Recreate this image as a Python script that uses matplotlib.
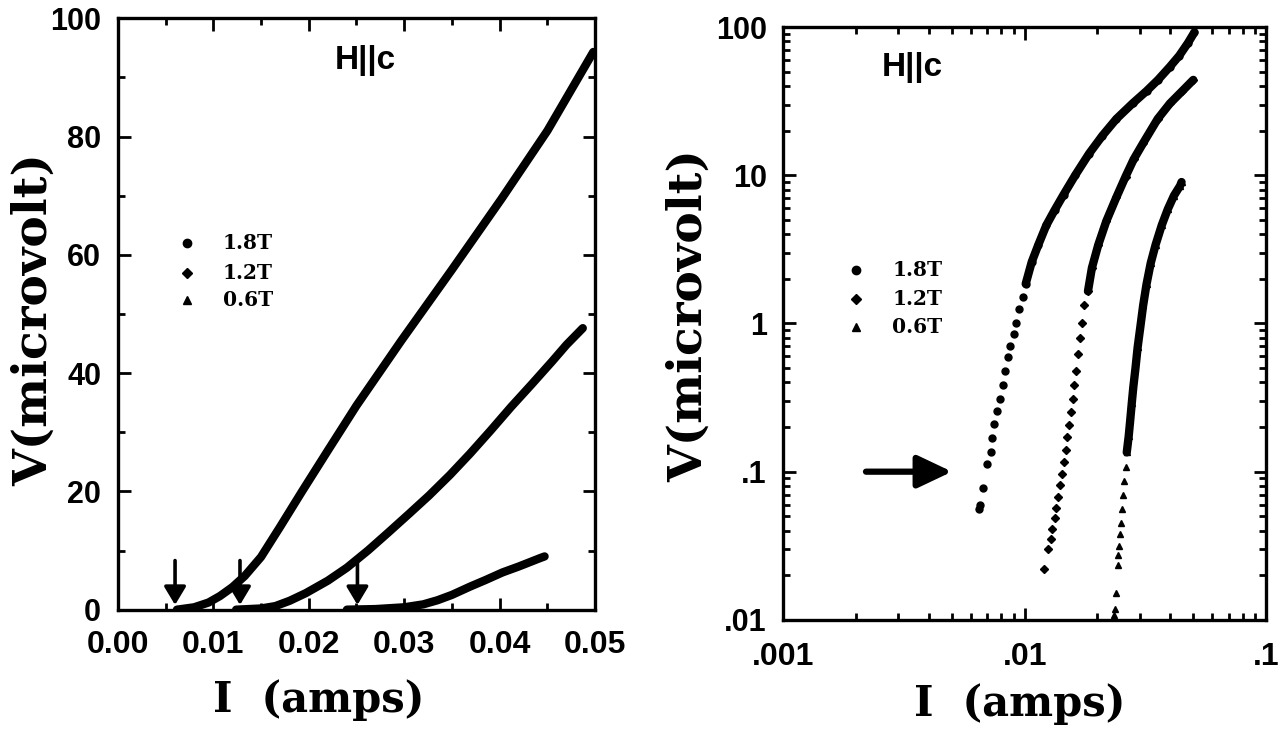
import numpy as np
import matplotlib
matplotlib.use("Agg")
import matplotlib.pyplot as plt
from matplotlib.ticker import MultipleLocator, FixedLocator, FuncFormatter, LogLocator, NullFormatter


# I-V curves for H || c at three fields (I in amps, V in microvolts).
fields = ["1.8T", "1.2T", "0.6T"]

# linear-scale sweep
lin_i_18 = [0.0062, 0.0080, 0.0095, 0.0107, 0.0120, 0.0133, 0.0150, 0.0170, 0.0193, 0.0220,
            0.0250, 0.0297, 0.0350, 0.0402, 0.0450, 0.0498]
lin_v_18 = [0.0, 0.4, 1.2, 2.3, 3.8, 5.7, 8.9, 14.0, 20.0, 26.9,
            34.5, 45.5, 57.5, 69.5, 81.0, 94.3]

lin_i_12 = [0.0124, 0.0150, 0.0165, 0.0180, 0.0197, 0.0220, 0.0240, 0.0262, 0.0283, 0.0305,
            0.0326, 0.0348, 0.0369, 0.0390, 0.0412, 0.0434, 0.0455, 0.0470, 0.0487]
lin_v_12 = [0.0, 0.2, 0.6, 1.5, 2.8, 4.9, 7.1, 10.0, 13.0, 16.2,
            19.3, 22.8, 26.4, 30.2, 34.3, 38.2, 42.0, 44.8, 47.6]

lin_i_06 = [0.0240, 0.0270, 0.0300, 0.0320, 0.0335, 0.0350, 0.0369, 0.0385, 0.0403, 0.0420,
            0.0442, 0.0447]
lin_v_06 = [0.0, 0.1, 0.4, 0.9, 1.6, 2.5, 3.9, 5.0, 6.3, 7.3,
            8.7, 9.0]

# log-log sweep
log_i_18 = [0.00645, 0.00655, 0.00675, 0.00695, 0.00722, 0.0073, 0.0075, 0.0077, 0.0079, 0.0081,
            0.0083, 0.0085, 0.0087, 0.0090, 0.0092, 0.0095, 0.0098, 0.0101, 0.0107, 0.0114,
            0.0123, 0.0133, 0.0145, 0.0162, 0.0185, 0.0210, 0.0240, 0.0280, 0.0320, 0.0357,
            0.0400, 0.0437, 0.0475, 0.0505]
log_v_18 = [0.056, 0.060, 0.078, 0.112, 0.135, 0.168, 0.21, 0.255, 0.31, 0.385,
            0.48, 0.59, 0.70, 0.85, 1.0, 1.25, 1.5, 1.85, 2.6, 3.4,
            4.6, 5.8, 7.4, 10.0, 14.0, 18.5, 24.0, 30.5, 37.0, 44.0,
            54.0, 64.0, 78.0, 92.0]

log_i_12 = [0.01206, 0.0125, 0.0128, 0.0130, 0.0133, 0.0135, 0.0138, 0.0140, 0.0143, 0.01455,
            0.01477, 0.0150, 0.01524, 0.0155, 0.0158, 0.0160, 0.0163, 0.0166, 0.0169, 0.0173,
            0.0177, 0.0183, 0.0190, 0.0202, 0.0218, 0.0240, 0.0262, 0.0283, 0.0310, 0.0356,
            0.0400, 0.0450, 0.0500]
log_v_12 = [0.022, 0.030, 0.035, 0.041, 0.049, 0.057, 0.068, 0.081, 0.097, 0.116,
            0.14, 0.171, 0.208, 0.254, 0.31, 0.386, 0.48, 0.62, 0.80, 1.0,
            1.34, 1.65, 2.37, 3.4, 4.9, 7.1, 9.8, 12.8, 16.5, 24.0,
            30.5, 37.0, 44.0]

log_i_06 = [0.0234, 0.0237, 0.0239, 0.0243, 0.0244, 0.0246, 0.0248, 0.0250, 0.0253, 0.0256,
            0.0259, 0.0262, 0.0265, 0.0270, 0.0274, 0.0278, 0.0282, 0.0288, 0.0294, 0.0302,
            0.0310, 0.0320, 0.0333, 0.0349, 0.0370, 0.0392, 0.0416, 0.0441, 0.0447]
log_v_06 = [0.0108, 0.0118, 0.0152, 0.0236, 0.0272, 0.0315, 0.0378, 0.0453, 0.0563, 0.070,
            0.087, 0.108, 0.135, 0.174, 0.224, 0.29, 0.37, 0.50, 0.69, 0.96,
            1.33, 1.84, 2.55, 3.4, 4.6, 5.9, 7.3, 8.5, 9.0]

# onset currents marked by arrows on the linear plot
onsets = [0.0060, 0.0128, 0.0251]

lin_series = [(lin_i_18, lin_v_18), (lin_i_12, lin_v_12), (lin_i_06, lin_v_06)]
log_series = [(log_i_18, log_v_18), (log_i_12, log_v_12), (log_i_06, log_v_06)]
markers = ["o", "D", "^"]
msizes = [5, 3.6, 4.6]
dense_from = [1.8, 1.6, 0.12]   # above this V the points merge into a band

serif = {"family": "DejaVu Serif", "weight": "bold"}
sans = {"family": "Liberation Sans", "weight": "bold"}

fig = plt.figure(figsize=(12.8, 7.31), dpi=100)
ax1 = fig.add_axes([0.092, 0.166, 0.373, 0.809])
ax2 = fig.add_axes([0.612, 0.152, 0.377, 0.811])


def style_axis(ax, xpad, ypad):
    for s in ax.spines.values():
        s.set_linewidth(2.4)
    ax.tick_params(which="both", direction="in", top=True, right=True, width=2)
    ax.tick_params(which="major", length=9)
    ax.tick_params(which="minor", length=5)
    ax.tick_params(axis="x", which="major", pad=xpad)
    ax.tick_params(axis="y", which="major", pad=ypad)
    for lab in ax.get_xticklabels():
        lab.set_fontfamily(sans["family"])
        lab.set_fontweight("bold")
        lab.set_fontsize(23)
    for lab in ax.get_yticklabels():
        lab.set_fontfamily(sans["family"])
        lab.set_fontweight("bold")
        lab.set_fontsize(22)


# linear panel
for (i, v) in lin_series:
    ax1.plot(i, v, "-", color="k", lw=6, solid_capstyle="round")

ax1.set_xlim(0, 0.05)
ax1.set_ylim(0, 100)
ax1.xaxis.set_major_locator(MultipleLocator(0.01))
ax1.xaxis.set_minor_locator(MultipleLocator(0.005))
ax1.yaxis.set_major_locator(MultipleLocator(20))
ax1.yaxis.set_minor_locator(MultipleLocator(10))
ax1.xaxis.set_major_formatter(FuncFormatter(lambda x, p: "%.2f" % x))
ax1.yaxis.set_major_formatter(FuncFormatter(lambda y, p: "%d" % y))
style_axis(ax1, 15, 12)

for x0 in onsets:
    ax1.annotate("", xy=(x0, 0.8), xytext=(x0, 8.3),
                 arrowprops=dict(arrowstyle="-|>,head_width=0.3,head_length=0.5",
                                 lw=2.6, color="k", mutation_scale=22, shrinkA=0, shrinkB=0))

# log-log panel
for (i, v), m, ms, thr in zip(log_series, markers, msizes, dense_from):
    i = np.array(i)
    v = np.array(v)
    ax2.plot(i, v, ls="none", marker=m, ms=ms, color="k")
    sel = v >= thr
    ax2.plot(i[sel], v[sel], "-", color="k", lw=6, solid_capstyle="round")

ax2.set_xscale("log")
ax2.set_yscale("log")
ax2.set_xlim(0.001, 0.1)
ax2.set_ylim(0.01, 100)
ax2.xaxis.set_major_locator(FixedLocator([0.001, 0.01, 0.1]))
ax2.xaxis.set_minor_locator(LogLocator(base=10, subs=np.arange(2, 10)))
ax2.yaxis.set_major_locator(FixedLocator([0.01, 0.1, 1, 10, 100]))
ax2.yaxis.set_minor_locator(LogLocator(base=10, subs=np.arange(2, 10)))
ax2.xaxis.set_minor_formatter(NullFormatter())
ax2.yaxis.set_minor_formatter(NullFormatter())


def log_label(val, pos):
    if val >= 1:
        return "%d" % round(val)
    return ("%g" % val).lstrip("0")


ax2.xaxis.set_major_formatter(FuncFormatter(log_label))
ax2.yaxis.set_major_formatter(FuncFormatter(log_label))
style_axis(ax2, 16, 12)

ax2.annotate("", xy=(0.0050, 0.1), xytext=(0.0022, 0.1),
             arrowprops=dict(arrowstyle="-|>,head_width=0.45,head_length=0.95",
                             lw=4.5, color="k", mutation_scale=22, shrinkA=0, shrinkB=0))

# labels, field annotation and key
for ax, xl, yl, hc, key_x, key_y in [
        (ax1, (0.42, -0.118), (-0.128, 0.49), (0.518, 0.929), 0.145, [0.62, 0.57, 0.524]),
        (ax2, (0.49, -0.106), (-0.147, 0.514), (0.268, 0.932), 0.151, [0.59, 0.541, 0.494])]:
    ax.set_xlabel("I  (amps)", fontsize=30, **serif)
    ax.set_ylabel("V(microvolt)", fontsize=34, **serif)
    ax.xaxis.set_label_coords(*xl)
    ax.yaxis.set_label_coords(*yl)
    ax.text(hc[0], hc[1], "H||c", transform=ax.transAxes, ha="center", va="center",
            fontsize=24, **sans)
    for name, m, ms, yy in zip(fields, markers, msizes, key_y):
        ax.plot([key_x], [yy], ls="none", marker=m, ms=ms + 1, color="k",
                transform=ax.transAxes, clip_on=False)
        ax.text(key_x + 0.075, yy, name, transform=ax.transAxes, ha="left", va="center",
                fontsize=14.5, **serif)

fig.savefig("out.png", dpi=100)
